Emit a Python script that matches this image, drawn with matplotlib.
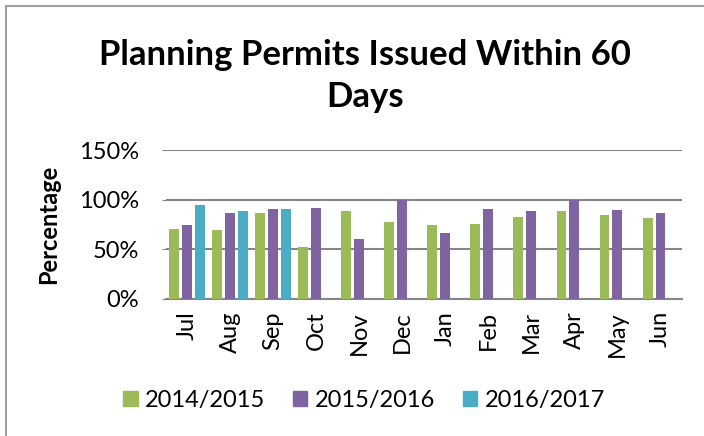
import matplotlib.pyplot as plt
import numpy as np
from matplotlib.lines import Line2D

plt.rcParams['font.family'] = ['Lato', 'DejaVu Sans']

months = ["Jul", "Aug", "Sep", "Oct", "Nov", "Dec",
          "Jan", "Feb", "Mar", "Apr", "May", "Jun"]
series_names = ["2014/2015", "2015/2016", "2016/2017"]
fy_2014 = [70.5, 69.4, 86.5, 52.1, 88.5, 77.4, 74.7, 75.7, 82.3, 88.9, 84.4, 81.3]
fy_2015 = [74.7, 86.8, 90.6, 91.3, 60.8, 100.0, 66.7, 90.6, 88.5, 100.0, 89.6, 86.8]
fy_2016 = [95.1, 88.9, 90.6, np.nan, np.nan, np.nan, np.nan, np.nan, np.nan, np.nan, np.nan, np.nan]
colors = ["#9BBB59", "#8064A2", "#4BACC6"]

W, H = 704, 436
fig = plt.figure(figsize=(W / 100, H / 100), dpi=100)
ax = fig.add_axes([165.5 / W, 1 - 298.7 / H, 516.5 / W, 148.4 / H])

x = np.arange(len(months))
offsets = [-0.3, 0.0, 0.3]
for vals, off, c, name in zip([fy_2014, fy_2015, fy_2016], offsets, colors, series_names):
    ax.bar(x + off, vals, width=0.23, color=c, label=name, zorder=3)

ax.set_xlim(-0.5, len(months) - 0.5)
ax.set_ylim(0, 150)
ax.set_yticks([0, 50, 100, 150])
ax.set_yticklabels(["0%", "50%", "100%", "150%"], fontsize=17)
ax.set_xticks(x)
ax.set_xticklabels(months, rotation=90, fontsize=17)
ax.yaxis.grid(True, color="#868686", linewidth=1.5, zorder=0)
for s in ["top", "right", "left"]:
    ax.spines[s].set_visible(False)
ax.spines["bottom"].set_color("#868686")
ax.spines["bottom"].set_linewidth(1.5)
ax.tick_params(axis="x", length=0, pad=9)
ax.tick_params(axis="y", length=3, color="#868686", pad=16)
ax.set_ylabel("Percentage", fontsize=17, fontweight="bold")
ax.yaxis.set_label_coords((60 - 165.5) / 516.5, 0.5)

fig.text(365 / W, 1 - 55 / H, "Planning Permits Issued Within 60", ha="center",
         va="center", fontsize=25, fontweight="bold")
fig.text(365 / W, 1 - 97 / H, "Days", ha="center", va="center",
         fontsize=25, fontweight="bold")

handles = [plt.Rectangle((0, 0), 1, 1, color=c) for c in colors]
fig.legend(handles, series_names, loc="center", bbox_to_anchor=(364 / W, 1 - 400 / H),
           ncol=3, frameon=False, fontsize=17, handlelength=0.6, handleheight=0.6,
           columnspacing=1.2, handletextpad=0.3)

# chart border (only top and left edges visible)
fig.add_artist(Line2D([6 / W, 6 / W], [0, 1 - 6 / H], color="#A0A0A0", lw=1.5))
fig.add_artist(Line2D([6 / W, 1], [1 - 6 / H, 1 - 6 / H], color="#A0A0A0", lw=1.5))

plt.savefig("out.png", dpi=100)
